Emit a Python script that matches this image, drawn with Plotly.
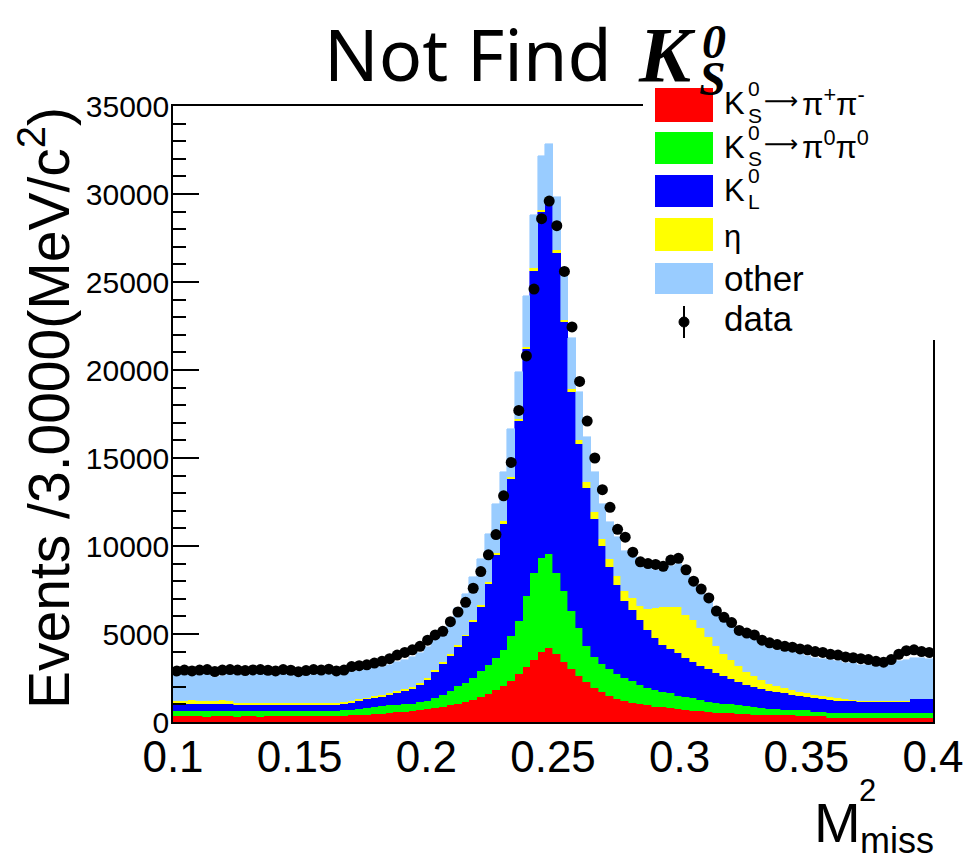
import numpy as np
import plotly.graph_objects as go

# ---------------- data ----------------
x_lo, x_hi, n_bins = 0.1, 0.4, 100

ks_pipi = [330, 320, 330, 320, 300, 320, 330, 320, 300, 320,
           330, 310, 320, 330, 320, 330, 320, 330, 320, 330,
           330, 340, 350, 370, 390, 420, 450, 480, 510, 550,
           590, 630, 680, 740, 800, 870, 950, 1050, 1150, 1270,
           1400, 1580, 1800, 2050, 2350, 2700, 3100, 3550, 3950, 4200,
           3850, 3400, 3000, 2600, 2250, 1950, 1700, 1500, 1330, 1200,
           1100, 1020, 950, 880, 830, 780, 730, 680, 640, 600,
           570, 540, 510, 490, 460, 440, 420, 400, 390, 380,
           370, 370, 360, 360, 350, 340, 240, 230, 230, 220,
           220, 220, 210, 210, 210, 200, 200, 200, 200, 200]

ks_pi0pi0 = [290, 290, 290, 295, 300, 290, 290, 290, 300, 290,
             290, 295, 295, 290, 290, 290, 295, 290, 290, 290,
             300, 310, 330, 340, 360, 380, 400, 420, 430, 420,
             410, 410, 430, 480, 570, 690, 800, 980, 1070, 1230,
             1480, 1680, 1840, 2060, 2520, 3020, 4040, 4920, 5370, 5350,
             4620, 4030, 3290, 2740, 2050, 1750, 1600, 1500, 1420, 1300,
             1220, 1080, 1000, 920, 870, 840, 770, 720, 710, 650,
             580, 560, 540, 510, 490, 460, 440, 420, 370, 340,
             320, 310, 310, 300, 230, 230, 270, 280, 280, 290,
             290, 290, 300, 300, 300, 310, 310, 310, 310, 310]

k_long = [410, 410, 420, 415, 420, 420, 420, 420, 350, 340,
          330, 340, 335, 335, 340, 330, 330, 330, 340, 340,
          330, 320, 320, 380, 450, 480, 500, 530, 590, 670,
          760, 860, 990, 1160, 1480, 1740, 1990, 2220, 2650, 3200,
          3660, 4590, 5860, 7160, 8940, 11370, 14060, 17180, 19630, 20150,
          18180, 15270, 12460, 10460, 9000, 7840, 6690, 5810, 5060, 4400,
          4030, 3700, 3300, 2950, 2700, 2530, 2430, 2250, 2070, 1950,
          1850, 1690, 1550, 1420, 1300, 1200, 1120, 1030, 1000, 980,
          930, 880, 810, 760, 790, 730, 750, 710, 690, 670,
          640, 630, 630, 630, 630, 630, 640, 770, 770, 770]

eta = [190, 190, 190, 190, 190, 190, 190, 190, 140, 140,
       140, 140, 140, 140, 140, 140, 140, 140, 140, 120,
       120, 120, 120, 100, 100, 100, 100, 100, 100, 100,
       100, 100, 100, 100, 100, 100, 100, 100, 100, 100,
       100, 130, 130, 130, 130, 130, 130, 130, 130, 150,
       150, 150, 150, 250, 320, 370, 400, 430, 480, 520,
       700, 800, 1150, 1700, 2150, 2400, 2600, 2450, 2350, 2150,
       1850, 1550, 1250, 1100, 920, 750, 620, 520, 400, 340,
       300, 260, 230, 200, 180, 160, 140, 120, 100, 80,
       60, 50, 40, 40, 40, 40, 40, 30, 30, 30]

other = [1480, 1490, 1450, 1480, 1510, 1330, 1370, 1480, 1630, 1610,
         1590, 1615, 1630, 1555, 1610, 1610, 1575, 1610, 1590, 1620,
         1640, 1610, 1640, 1660, 1600, 1620, 1600, 1620, 1620, 1660,
         1690, 1700, 1700, 1770, 1700, 1800, 2000, 2150, 2300, 2450,
         2600, 2700, 2750, 2800, 2700, 2650, 2850, 3000, 3100, 3000,
         3050, 2900, 2900, 2700, 2550, 2300, 2000, 2100, 2200, 2300,
         2350, 2250, 2350, 2200, 2050, 2300, 2420, 2300, 2030, 2000,
         2000, 1860, 2000, 1980, 1930, 2000, 2050, 2030, 2090, 2060,
         2130, 2130, 2140, 2130, 2100, 2140, 2100, 2110, 2080, 2070,
         2040, 2030, 2000, 1960, 2120, 2280, 2360, 2340, 2310, 2290]

data = [2900, 2950, 2900, 2950, 2980, 2870, 2950, 2980, 2950, 2920,
        2960, 2980, 2940, 2900, 2980, 2940, 2860, 2920, 2980, 2950,
        3000, 2900, 2950, 3150, 3200, 3250, 3350, 3450, 3600, 3800,
        3950, 4100, 4300, 4650, 4950, 5150, 5700, 6250, 6800, 7600,
        8550, 9500, 10650, 12850, 14750, 17700, 20800, 24600, 28600, 29600,
        28200, 25600, 22450, 19350, 17100, 15000, 13200, 12200, 10950, 10500,
        9650, 9100, 9000, 8950, 8850, 9200, 9300, 8650, 8000, 7550,
        7050, 6300, 5950, 5650, 5200, 5050, 4950, 4650, 4500, 4400,
        4300, 4250, 4150, 4100, 4000, 3950, 3850, 3800, 3700, 3650,
        3600, 3550, 3450, 3400, 3550, 3850, 4050, 4100, 4000, 3950]

x_tick_vals = [0.1, 0.15, 0.2, 0.25, 0.3, 0.35, 0.4]
x_tick_text = ["0.1", "0.15", "0.2", "0.25", "0.3", "0.35", "0.4"]

series_names = ["K<sub>S</sub><sup>0</sup>→π<sup>+</sup>π<sup>-</sup>",
                "K<sub>S</sub><sup>0</sup>→π<sup>0</sup>π<sup>0</sup>",
                "K<sub>L</sub><sup>0</sup>", "η", "other"]
series_colors = ["#FF0000", "#00FF00", "#0000FF", "#FFFF00", "#99CCFF"]

# ---------------- figure ----------------
W, H = 968, 863
ML, MR, MT, MB = 173, 35, 106, 141
PW, PH = W - ML - MR, H - MT - MB

def px2x(px):
    return (px - ML) / PW

def py2y(py):
    return (H - MB - py) / PH

bin_width = (x_hi - x_lo) / n_bins
centers = x_lo + bin_width * (np.arange(n_bins) + 0.5)

fig = go.Figure()
for name, vals, col in zip(series_names, [ks_pipi, ks_pi0pi0, k_long, eta, other], series_colors):
    fig.add_trace(go.Bar(x=centers, y=vals, width=bin_width, name=name,
                         marker=dict(color=col, line=dict(color=col, width=0.6)),
                         showlegend=False))

fig.add_trace(go.Scatter(x=centers, y=data, mode="markers", name="data",
                         marker=dict(color="black", size=11, symbol="circle"),
                         error_x=dict(type="constant", value=bin_width / 2, thickness=1.5,
                                      width=0, color="black"),
                         showlegend=False))

SANS = "Liberation Sans, Arial, sans-serif"

fig.update_layout(
    width=W, height=H, barmode="stack", bargap=0,
    margin=dict(l=ML, r=MR, t=MT, b=MB, pad=0),
    plot_bgcolor="white", paper_bgcolor="white",
    font=dict(family=SANS, color="black"),
    xaxis=dict(range=[x_lo, x_hi], tickmode="array", tickvals=x_tick_vals, ticktext=x_tick_text,
               ticks="", showgrid=False, zeroline=False, showline=True, linecolor="black",
               linewidth=1.5, mirror=True, tickfont=dict(size=44, family=SANS),
               ticklabelstandoff=-5, automargin=False),
    yaxis=dict(range=[0, 35000], tickmode="linear", tick0=0, dtick=5000, tickformat="d",
               ticks="inside", ticklen=26, tickwidth=1.5, tickcolor="black",
               minor=dict(ticks="inside", ticklen=13, dtick=1000, tickwidth=1.5,
                          tickcolor="black", showgrid=False),
               showgrid=False, zeroline=False, showline=True, linecolor="black",
               linewidth=1.5, mirror=True, tickfont=dict(size=30, family=SANS),
               ticklabelstandoff=-4, automargin=False),
)

shapes = []
# legend background (covers part of the frame, as in the reference)
shapes.append(dict(type="rect", xref="paper", yref="paper", layer="above",
                   x0=px2x(643), x1=px2x(945), y0=py2y(340), y1=py2y(84),
                   fillcolor="white", line=dict(width=0)))
box_rows = [(88, 122), (132, 164), (175, 207), (218, 251), (263, 294)]
for (t, b), col in zip(box_rows, series_colors):
    shapes.append(dict(type="rect", xref="paper", yref="paper", layer="above",
                       x0=px2x(655), x1=px2x(713), y0=py2y(b), y1=py2y(t),
                       fillcolor=col, line=dict(width=0)))
shapes.append(dict(type="line", xref="paper", yref="paper", layer="above",
                   x0=px2x(684), x1=px2x(684), y0=py2y(338), y1=py2y(306),
                   line=dict(color="black", width=2)))
shapes.append(dict(type="circle", xref="paper", yref="paper", layer="above",
                   x0=px2x(679), x1=px2x(689), y0=py2y(327), y1=py2y(317),
                   fillcolor="black", line=dict(color="black", width=1)))
fig.update_layout(shapes=shapes)

ann = []

def add_text(text, px, py, size, xanchor="left", family=SANS, angle=0):
    ann.append(dict(text=text, x=px2x(px), y=py2y(py), xref="paper", yref="paper",
                    xanchor=xanchor, yanchor="middle", showarrow=False, textangle=angle,
                    font=dict(size=size, family=family, color="black")))

# legend labels
LF = 31
ARROW_FONT = "DejaVu Sans, sans-serif"
for cy, sub, rest in [(104, "S", "π<sup>+</sup>π<sup>-</sup>"),
                      (147, "S", "π<sup>0</sup>π<sup>0</sup>"),
                      (190, "L", "")]:
    add_text("K", 722, cy, LF)
    add_text("0", 746, cy - 15, 21)
    add_text(sub, 746, cy + 11, 21)
    if rest:
        add_text("⟶", 762, cy - 3, 24, family=ARROW_FONT)
        add_text(rest, 800, cy - 2, LF)
add_text("η", 722, 236, LF)
add_text("other", 722, 278, 35)
add_text("data", 722, 318, 35)

# title
SERIF = "Liberation Serif, Times New Roman, serif"
add_text("Not Find", 322, 53, 72, family="Noto Sans, sans-serif")
add_text("<b><i>K</i></b>", 636, 55, 78, family=SERIF)
add_text("<b><i>0</i></b>", 700, 42, 48, family=SERIF)
add_text("<b><i>S</i></b>", 697, 78, 48, family=SERIF)

# axis titles
add_text("Events /3.0000(MeV/c<sup>2</sup>)", 45, 408, 57, xanchor="center", angle=-90)
add_text("M", 863, 823, 56, xanchor="right")
add_text("2", 857, 791, 31)
add_text("miss", 858, 840, 36)

fig.update_layout(annotations=ann)

fig.write_html("out.html", config={"displayModeBar": False},
               post_script="document.body.style.margin='0';document.body.style.overflow='hidden';")
